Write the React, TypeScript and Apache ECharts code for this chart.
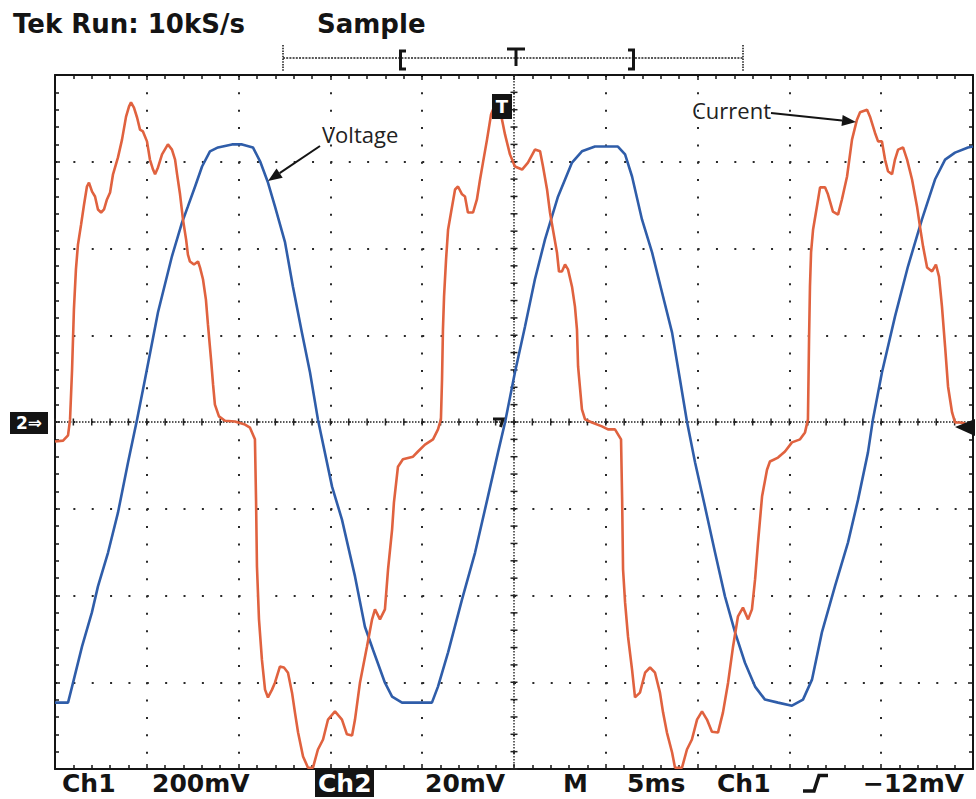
import React, { useEffect, useRef } from "react";
import * as echarts from "echarts";

// Time base: 5 ms/div, 10 divisions
const TIME_MIN = 0;
const TIME_MAX = 50;
const TIME_DIV = 5;
// Ch1 (voltage) 200 mV/div, Ch2 (current probe) 20 mV/div, 8 divisions
const CH1_RANGE = 800;
const CH1_DIV = 200;
const CH2_RANGE = 80;
const CH2_DIV = 20;

const headerLabels = ["Tek Run: 10kS/s", "Sample"];
const footerLabels = ["Ch1", "200mV", "Ch2", "20mV", "M", "5ms", "Ch1", "\u221212mV"];
const annotationLabels = ["Voltage", "Current"];

// Ch1 voltage trace: time (ms) / value (mV)
const voltageTime = [0, 0.71, 0.93, 1.47, 2.01, 2.34, 2.89, 3.43, 3.98, 4.47, 4.9, 5.61, 6.37, 6.92, 7.24, 7.63, 8.01, 8.44, 8.88, 9.64, 10.19, 10.78, 11.17, 11.6, 11.98, 12.53, 12.96, 13.45, 13.89, 14.32, 15.09, 15.63, 16.34, 16.88, 17.32, 17.97, 18.36, 18.9, 19.61, 20.53, 20.86, 21.41, 22.17, 22.88, 23.58, 24.13, 24.51, 25.05, 25.6, 26.14, 26.69, 27.4, 28.16, 28.7, 29.41, 30.12, 30.66, 31.05, 31.43, 31.97, 32.52, 33.06, 33.61, 34.04, 34.42, 34.86, 35.4, 35.95, 36.49, 37.04, 37.58, 38.13, 38.67, 39.38, 40.14, 40.74, 41.23, 41.77, 42.48, 43.19, 43.74, 44.28, 44.55, 45.04, 45.75, 46.46, 47.22, 47.93, 48.48, 49.02, 49.73, 50];
const voltageMv = [-647, -647, -610, -518, -439, -379, -301, -209, -93, 6, 98, 253, 382, 460, 497, 543, 589, 624, 633, 640, 640, 633, 601, 552, 497, 414, 312, 206, 114, 6, -149, -225, -356, -472, -525, -601, -633, -647, -647, -647, -610, -531, -409, -301, -172, -70, -1, 114, 220, 329, 421, 520, 598, 624, 635, 635, 635, 617, 566, 467, 391, 299, 206, 98, 1, -93, -195, -301, -402, -485, -555, -610, -640, -647, -654, -640, -594, -485, -379, -278, -179, -70, 6, 114, 243, 359, 467, 559, 605, 621, 633, 635];

// Ch2 current trace: time (ms) / value (mV)
const currentTime = [0, 0.44, 0.71, 0.82, 0.93, 1.03, 1.14, 1.25, 1.42, 1.58, 1.74, 1.85, 2.02, 2.18, 2.34, 2.51, 2.67, 2.83, 3.0, 3.16, 3.43, 3.65, 3.87, 4.03, 4.14, 4.3, 4.47, 4.63, 4.79, 5.01, 5.17, 5.34, 5.45, 5.61, 5.83, 6.15, 6.37, 6.54, 6.65, 6.81, 6.97, 7.14, 7.24, 7.35, 7.57, 7.79, 7.9, 8.06, 8.22, 8.33, 8.5, 8.61, 8.71, 8.93, 9.26, 9.8, 10.35, 10.62, 10.89, 10.95, 11.0, 11.11, 11.27, 11.44, 11.6, 11.82, 11.98, 12.25, 12.47, 12.69, 12.91, 13.07, 13.24, 13.51, 13.78, 14.05, 14.32, 14.6, 14.87, 15.25, 15.63, 15.9, 16.18, 16.34, 16.61, 16.99, 17.27, 17.43, 17.7, 17.97, 18.14, 18.36, 18.46, 18.68, 18.95, 19.5, 19.77, 20.15, 20.59, 20.86, 21.02, 21.08, 21.13, 21.19, 21.3, 21.41, 21.57, 21.79, 21.95, 22.17, 22.33, 22.49, 22.77, 22.98, 23.15, 23.31, 23.53, 23.75, 23.97, 24.13, 24.29, 24.51, 24.78, 25.05, 25.44, 25.76, 26.14, 26.42, 26.58, 26.8, 26.96, 27.12, 27.34, 27.45, 27.61, 27.78, 27.94, 28.16, 28.32, 28.43, 28.49, 28.7, 28.87, 29.25, 29.79, 30.12, 30.5, 30.83, 30.89, 30.94, 31.05, 31.21, 31.43, 31.59, 31.86, 32.14, 32.41, 32.68, 32.95, 33.12, 33.33, 33.61, 33.77, 34.15, 34.42, 34.69, 34.97, 35.24, 35.51, 35.78, 36.11, 36.38, 36.66, 36.93, 37.2, 37.47, 37.75, 37.96, 38.13, 38.29, 38.51, 38.78, 38.94, 39.38, 39.76, 40.14, 40.58, 40.85, 41.01, 41.07, 41.12, 41.18, 41.29, 41.5, 41.67, 41.94, 42.1, 42.37, 42.65, 42.86, 43.14, 43.41, 43.68, 43.85, 44.23, 44.39, 44.66, 44.83, 45.04, 45.21, 45.37, 45.59, 45.75, 45.92, 46.19, 46.41, 46.68, 46.95, 47.11, 47.28, 47.5, 47.77, 47.98, 48.15, 48.31, 48.48, 48.64, 48.86, 49.02, 49.29, 49.57];
const currentMv = [-4.5, -4.3, -3.1, 0.6, 12.1, 25.9, 35.2, 40.9, 45.5, 50.1, 54.3, 55.2, 53.1, 52.0, 49.0, 48.3, 49.0, 51.3, 52.9, 57.1, 61.0, 65.1, 70.4, 72.7, 73.7, 72.5, 70.2, 67.4, 67.0, 64.7, 60.5, 58.2, 57.1, 58.7, 61.7, 64.0, 62.8, 60.5, 57.1, 52.5, 46.7, 42.1, 38.6, 37.0, 36.3, 37.0, 35.6, 32.9, 28.2, 22.5, 14.4, 8.6, 4.0, 1.3, 0.3, 0.1, -0.6, -1.3, -4.0, -17.9, -33.3, -45.5, -54.8, -61.7, -63.5, -61.7, -60.1, -56.4, -56.6, -57.8, -62.4, -67.0, -71.6, -77.1, -79.7, -79.7, -75.5, -73.2, -68.6, -66.7, -68.6, -72.0, -72.3, -68.6, -60.1, -51.8, -45.5, -43.2, -45.5, -43.2, -34.0, -24.8, -18.6, -10.3, -8.6, -8.0, -6.8, -5.2, -4.0, -1.7, 0.6, 9.8, 21.3, 28.9, 37.5, 44.4, 48.3, 53.6, 54.3, 52.5, 52.0, 48.3, 48.3, 51.3, 55.9, 59.8, 65.1, 70.9, 73.2, 73.9, 70.9, 66.3, 61.7, 58.9, 58.2, 59.8, 62.8, 62.4, 58.9, 53.6, 48.3, 44.4, 39.1, 34.7, 34.7, 36.3, 35.2, 31.2, 26.6, 21.3, 12.8, 2.9, 0.6, -0.1, -1.0, -1.7, -1.7, -4.0, -17.9, -34.0, -41.6, -49.5, -57.1, -63.5, -62.4, -57.8, -56.6, -57.8, -62.4, -67.0, -71.6, -76.2, -79.7, -79.7, -75.5, -73.2, -68.6, -66.7, -68.6, -71.4, -71.6, -67.0, -60.1, -51.8, -44.8, -42.8, -45.5, -43.2, -36.3, -27.8, -17.2, -11.0, -9.1, -8.2, -6.8, -4.7, -4.0, -2.4, 0.6, 19.0, 31.2, 39.1, 44.4, 49.7, 54.1, 54.1, 52.5, 48.5, 47.8, 51.3, 56.6, 65.1, 69.7, 71.4, 72.0, 70.4, 66.7, 64.7, 64.7, 60.5, 57.8, 57.1, 60.5, 62.8, 63.3, 60.5, 55.9, 49.7, 45.1, 40.5, 35.6, 34.7, 36.3, 33.5, 26.6, 17.4, 8.2, 2.2, -0.1, -0.1, -0.3];

const GRID = { left: 55, top: 75, width: 918, height: 694 };
const INK = "#141414";
const VOLT_COLOR = "#2f5da9";
const CURR_COLOR = "#e0623f";
const SCOPE_FONT = "DejaVu Sans";
const NOTE_FONT = "Open Sans";

function zip(a: number[], b: number[]) {
  return a.map((t, i) => [t, b[i]]);
}

function label(text: string, x: number, y: number, opt: any = {}) {
  const align = opt.align || "left";
  return {
    type: "text",
    x,
    y,
    z: opt.z || 20,
    style: {
      text,
      fill: opt.fill || INK,
      fontSize: opt.size || 25,
      fontFamily: opt.family || SCOPE_FONT,
      fontWeight: opt.weight || "bold",
      align,
      textAlign: align,
      verticalAlign: "middle",
      textVerticalAlign: "middle",
    },
  };
}

function arrow(x1: number, y1: number, x2: number, y2: number) {
  const dx = x2 - x1;
  const dy = y2 - y1;
  const len = Math.sqrt(dx * dx + dy * dy);
  const ux = dx / len;
  const uy = dy / len;
  const hl = 14;
  const hw = 5.5;
  const bx = x2 - ux * hl;
  const by = y2 - uy * hl;
  return [
    { type: "line", z: 20, shape: { x1, y1, x2: bx, y2: by }, style: { stroke: INK, lineWidth: 2 } },
    {
      type: "polygon",
      z: 20,
      shape: { points: [[x2, y2], [bx - uy * hw, by + ux * hw], [bx + uy * hw, by - ux * hw]] },
      style: { fill: INK },
    },
  ];
}

function axisBase(min: number, max: number, interval: number, position: string) {
  return {
    type: "value",
    min,
    max,
    interval,
    position,
    axisLine: { show: true, onZero: false, lineStyle: { color: INK, width: 2 } },
    axisTick: { show: true, inside: true, length: 5, lineStyle: { color: INK, width: 1.5 } },
    minorTick: { show: true, splitNumber: 5, length: 4, lineStyle: { color: INK, width: 1.5 } },
    axisLabel: { show: false },
    splitLine: { show: false },
  };
}

export default function App() {
  const ref = useRef<HTMLDivElement>(null);

  useEffect(() => {
    if (!ref.current) return;
    const chart = echarts.init(ref.current, null, { renderer: "svg", width: 976, height: 799 });

    const xMain: any = axisBase(TIME_MIN, TIME_MAX, TIME_DIV, "bottom");
    xMain.splitLine = {
      show: true,
      lineStyle: { color: "#2a2a2a", width: 2, type: [2, GRID.height / 40 - 2] },
    };
    const xTop: any = axisBase(TIME_MIN, TIME_MAX, TIME_DIV, "top");
    const yMain: any = axisBase(-CH1_RANGE, CH1_RANGE, CH1_DIV, "left");
    yMain.splitLine = {
      show: true,
      lineStyle: { color: "#2a2a2a", width: 2, type: [2, GRID.width / 50 - 2] },
    };
    const yRight: any = axisBase(-CH2_RANGE, CH2_RANGE, CH2_DIV, "right");

    const centerCross = {
      type: "custom",
      xAxisIndex: 0,
      yAxisIndex: 0,
      silent: true,
      z: 1,
      data: [[(TIME_MIN + TIME_MAX) / 2, 0]],
      renderItem: (_params: any, api: any) => {
        const c = api.coord([api.value(0), api.value(1)]);
        const xc = c[0];
        const yc = c[1];
        const xl = api.coord([TIME_MIN, 0])[0];
        const xr = api.coord([TIME_MAX, 0])[0];
        const yt = api.coord([api.value(0), CH1_RANGE])[1];
        const yb = api.coord([api.value(0), -CH1_RANGE])[1];
        const s = { stroke: "#222", lineWidth: 1.4, lineDash: [1.5, 1.5] };
        const children: any[] = [
          { type: "line", shape: { x1: xl, y1: yc, x2: xr, y2: yc }, style: s },
          { type: "line", shape: { x1: xc, y1: yt, x2: xc, y2: yb }, style: s },
        ];
        const tStep = TIME_DIV / 5;
        for (let i = 0; i <= (TIME_MAX - TIME_MIN) / tStep; i++) {
          const x = api.coord([TIME_MIN + i * tStep, 0])[0];
          children.push({ type: "line", shape: { x1: x, y1: yc - 3.5, x2: x, y2: yc + 3.5 }, style: { stroke: "#222", lineWidth: 1.5 } });
        }
        const vStep = CH1_DIV / 5;
        for (let i = 0; i <= (2 * CH1_RANGE) / vStep; i++) {
          const y = api.coord([api.value(0), -CH1_RANGE + i * vStep])[1];
          children.push({ type: "line", shape: { x1: xc - 3.5, y1: y, x2: xc + 3.5, y2: y }, style: { stroke: "#222", lineWidth: 1.5 } });
        }
        return { type: "group", children };
      },
    };

    const footerX = [62, 152, 318, 425, 563, 627, 717, 863];
    const footer: any[] = [
      { type: "rect", z: 19, shape: { x: 315, y: 770, width: 59, height: 27 }, style: { fill: INK } },
    ];
    footerLabels.forEach((t, i) => {
      footer.push(label(t, footerX[i], 783, { fill: i === 2 ? "#fff" : INK }));
    });

    const graphic: any[] = [
      label(headerLabels[0], 13, 24, { size: 26 }),
      label(headerLabels[1], 317, 24, { size: 26 }),
      // record bar
      { type: "line", z: 20, shape: { x1: 283, y1: 58, x2: 743, y2: 58 }, style: { stroke: "#222", lineWidth: 1.5, lineDash: [2, 1.2] } },
      { type: "line", z: 20, shape: { x1: 283, y1: 45, x2: 283, y2: 72 }, style: { stroke: "#222", lineWidth: 1.6, lineDash: [1.5, 1.2] } },
      { type: "line", z: 20, shape: { x1: 743, y1: 45, x2: 743, y2: 72 }, style: { stroke: "#222", lineWidth: 1.6, lineDash: [1.5, 1.2] } },
      { type: "polyline", z: 20, shape: { points: [[406, 51], [400.5, 51], [400.5, 69], [406, 69]] }, style: { stroke: INK, lineWidth: 3, fill: null } },
      { type: "polyline", z: 20, shape: { points: [[628, 50], [633.5, 50], [633.5, 69], [628, 69]] }, style: { stroke: INK, lineWidth: 3, fill: null } },
      { type: "line", z: 20, shape: { x1: 507, y1: 49, x2: 525, y2: 49 }, style: { stroke: INK, lineWidth: 3 } },
      { type: "line", z: 20, shape: { x1: 516, y1: 49, x2: 516, y2: 66 }, style: { stroke: INK, lineWidth: 3 } },
      // trigger position marker on graticule
      { type: "rect", z: 20, shape: { x: 492, y: 94, width: 20, height: 25 }, style: { fill: INK } },
      label("T", 502, 106, { align: "center", fill: "#fff", size: 18 }),
      // trigger level mark
      { type: "polyline", z: 20, shape: { points: [[493, 419], [503, 419], [500.5, 427]] }, style: { stroke: INK, lineWidth: 3, fill: null } },
      // ground reference marker
      { type: "rect", z: 20, shape: { x: 10, y: 412, width: 38, height: 22 }, style: { fill: INK } },
      label("2\u21d2", 29, 423, { align: "center", fill: "#fff", size: 17 }),
      // trigger level arrow on right
      { type: "polygon", z: 20, shape: { points: [[955, 427], [975, 419], [975, 436]] }, style: { fill: INK } },
      // trigger slope symbol
      { type: "polyline", z: 20, shape: { points: [[803, 791], [814, 791], [819, 775.5], [828, 775.5]] }, style: { stroke: INK, lineWidth: 3.5, fill: null } },
      // annotations
      label(annotationLabels[0], 322, 134, { family: NOTE_FONT, weight: "normal", size: 22, fill: "#222" }),
      label(annotationLabels[1], 692, 110, { family: NOTE_FONT, weight: "normal", size: 22, fill: "#222" }),
      ...arrow(320, 146, 268, 181),
      ...arrow(771, 113, 856, 122),
      ...footer,
    ];

    chart.setOption({
      animation: false,
      backgroundColor: "#ffffff",
      grid: { left: GRID.left, top: GRID.top, width: GRID.width, height: GRID.height, show: false },
      xAxis: [xMain, xTop],
      yAxis: [yMain, yRight],
      series: [
        centerCross,
        {
          type: "line",
          name: annotationLabels[0],
          xAxisIndex: 0,
          yAxisIndex: 0,
          data: zip(voltageTime, voltageMv),
          showSymbol: false,
          symbol: "none",
          lineStyle: { color: VOLT_COLOR, width: 2.6 },
          z: 3,
        },
        {
          type: "line",
          name: annotationLabels[1],
          xAxisIndex: 0,
          yAxisIndex: 1,
          data: zip(currentTime, currentMv),
          showSymbol: false,
          symbol: "none",
          lineStyle: { color: CURR_COLOR, width: 2.6 },
          z: 4,
        },
      ],
      graphic,
    });

    return () => {
      chart.dispose();
    };
  }, []);

  return (
    <div
      ref={ref}
      style={{ position: "absolute", left: 0, top: 0, width: 976, height: 799, background: "#fff" }}
    />
  );
}
